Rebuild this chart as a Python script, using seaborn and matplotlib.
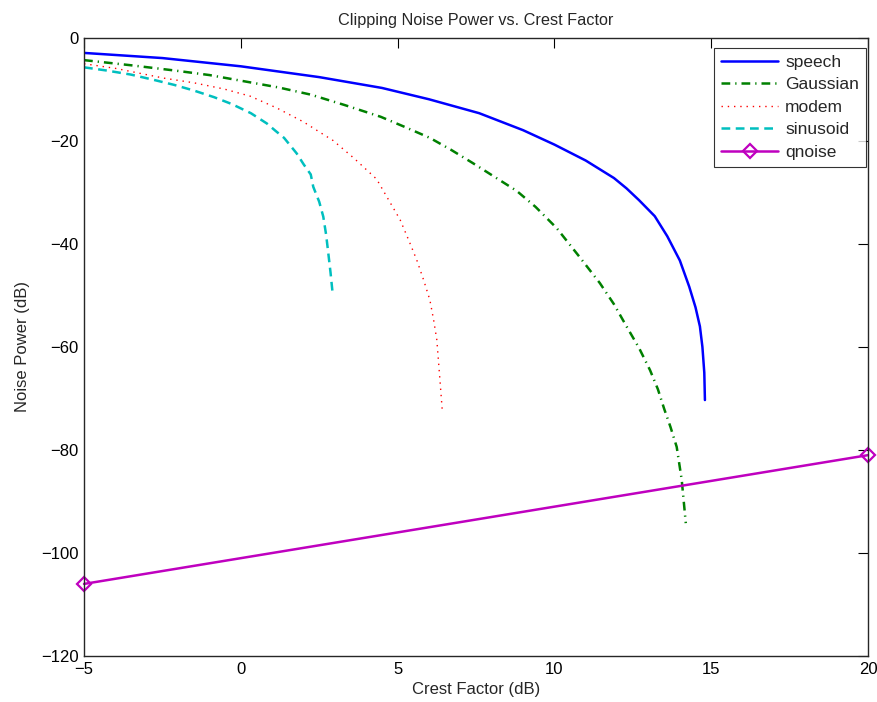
import matplotlib
matplotlib.use("Agg")
import matplotlib.pyplot as plt
import seaborn as sns
import pandas as pd

# ---- data ----
speech_x = [-5, -2.5, 0, 2.5, 4.5, 6.0, 7.6, 9.0, 10.0, 11.0, 11.9, 12.3, 12.7, 13.2, 13.6,
            14.0, 14.3, 14.5, 14.64, 14.72, 14.78, 14.8]
speech_y = [-2.9, -3.9, -5.5, -7.6, -9.7, -11.9, -14.6, -17.9, -20.7, -23.8, -27.2, -29.2,
            -31.5, -34.6, -38.5, -43.2, -48.3, -52.3, -56.0, -60.0, -65.0, -70.3]

gauss_x = [-5, -3.5, -2.13, -1.0, 0.1, 1.2, 2.23, 3.3, 4.46, 5.2, 6.03, 6.7, 7.4, 8.1, 8.8,
           9.4, 10.07, 10.5, 10.8, 11.45, 11.9, 12.3, 12.7, 13.05, 13.3, 13.5, 13.7, 13.9,
           14.06, 14.19]
gauss_y = [-4.3, -5.3, -6.3, -7.2, -8.4, -9.6, -11.0, -13.0, -15.3, -17.2, -19.4, -21.7, -24.3,
           -27.0, -29.7, -32.8, -36.9, -40.2, -42.5, -47.6, -51.7, -56.0, -60.2, -64.5, -68.2,
           -72.0, -75.5, -79.4, -85.8, -94.2]

modem_x = [-5, -4.0, -2.45, -1.5, -0.54, 0.3, 1.15, 2.0, 2.65, 2.94, 3.6, 4.33, 4.7, 5.08,
           5.35, 5.61, 5.83, 6.03, 6.15, 6.25, 6.3, 6.35, 6.43]
modem_y = [-5.0, -5.9, -7.8, -8.7, -9.9, -11.3, -13.6, -16.3, -18.8, -19.9, -23.3, -27.4,
           -31.3, -35.3, -39.2, -43.1, -47.0, -50.9, -54.8, -58.6, -62.5, -66.4, -72.8]

sinus_x = [-5, -4.3, -3.51, -2.8, -2.13, -1.5, -0.85, -0.3, 0.32, 0.83, 1.1, 1.38, 1.78, 2.0,
           2.23, 2.31, 2.5, 2.63, 2.72, 2.79, 2.86, 2.92]
sinus_y = [-5.7, -6.3, -7.1, -8.1, -9.1, -10.2, -11.5, -12.8, -14.6, -16.6, -18.0, -19.4,
           -22.4, -24.5, -26.5, -28.9, -31.8, -34.7, -38.2, -41.8, -45.5, -49.1]

qnoise_x = [-5, 20]
qnoise_y = [-106, -81]

labels = ["speech", "Gaussian", "modem", "sinusoid", "qnoise"]

sns.set_style("white")
plt.rcParams["font.family"] = ["Liberation Sans", "DejaVu Sans"]
plt.rcParams["legend.numpoints"] = 1

fig = plt.figure(figsize=(8.78, 7.02), dpi=100)
ax = fig.add_axes([0.0957, 0.0655, 0.8929, 0.8804])

series = [
    (speech_x, speech_y, dict(color=(0, 0, 1), lw=1.8, linestyle="-")),
    (gauss_x, gauss_y, dict(color=(0, 0.5, 0), lw=1.8, linestyle=(0, (3.5, 2.0, 0.5, 2.0)))),
    (modem_x, modem_y, dict(color=(1, 0, 0), lw=1.0, linestyle=(0, (1, 3.5)))),
    (sinus_x, sinus_y, dict(color=(0, 0.75, 0.75), lw=1.8, linestyle=(0, (3.5, 2.2)))),
    (qnoise_x, qnoise_y, dict(color=(0.75, 0, 0.75), lw=1.8, linestyle="-")),
]

for (xs, ys, kw), lab in zip(series, labels):
    df = pd.DataFrame({"x": xs, "y": ys})
    sns.lineplot(data=df, x="x", y="y", ax=ax, sort=False, estimator=None,
                 label=lab, **kw)

# diamond markers on the qnoise line (drawn over the axes edge like the reference)
qline = ax.get_lines()[-1]
qline.set_marker("D")
qline.set_markersize(7)
qline.set_markerfacecolor("none")
qline.set_markeredgecolor((0.75, 0, 0.75))
qline.set_markeredgewidth(1.6)
qline.set_clip_on(False)

ax.set_xlim(-5, 20)
ax.set_ylim(-120, 0)
ax.set_xticks([-5, 0, 5, 10, 15, 20])
ax.set_yticks([-120, -100, -80, -60, -40, -20, 0])
ax.set_xticklabels(["\u22125", "0", "5", "10", "15", "20"])
ax.set_yticklabels(["\u2212120", "\u2212100", "\u221280", "\u221260", "\u221240", "\u221220", "0"])
ax.tick_params(direction="in", top=True, right=True, length=7, width=0.8,
               labelsize=12, colors="black", pad=4)
for s in ax.spines.values():
    s.set_visible(True)
    s.set_color("#262626")
    s.set_linewidth(1.0)

ax.set_xlabel("Crest Factor (dB)", fontsize=12, labelpad=4)
ax.set_ylabel("Noise Power (dB)", fontsize=12, labelpad=8)
ax.set_title("Clipping Noise Power vs. Crest Factor", fontsize=11.7, pad=9)

leg = ax.legend(loc="upper right", bbox_to_anchor=(0.9975, 0.984), borderaxespad=0,
                fontsize=12.5, frameon=True, fancybox=False,
                handlelength=3.3, labelspacing=0.42, borderpad=0.4, handletextpad=0.4)
leg.get_frame().set_edgecolor("black")
leg.get_frame().set_linewidth(0.8)

fig.savefig("out.png", dpi=100, facecolor="white")
